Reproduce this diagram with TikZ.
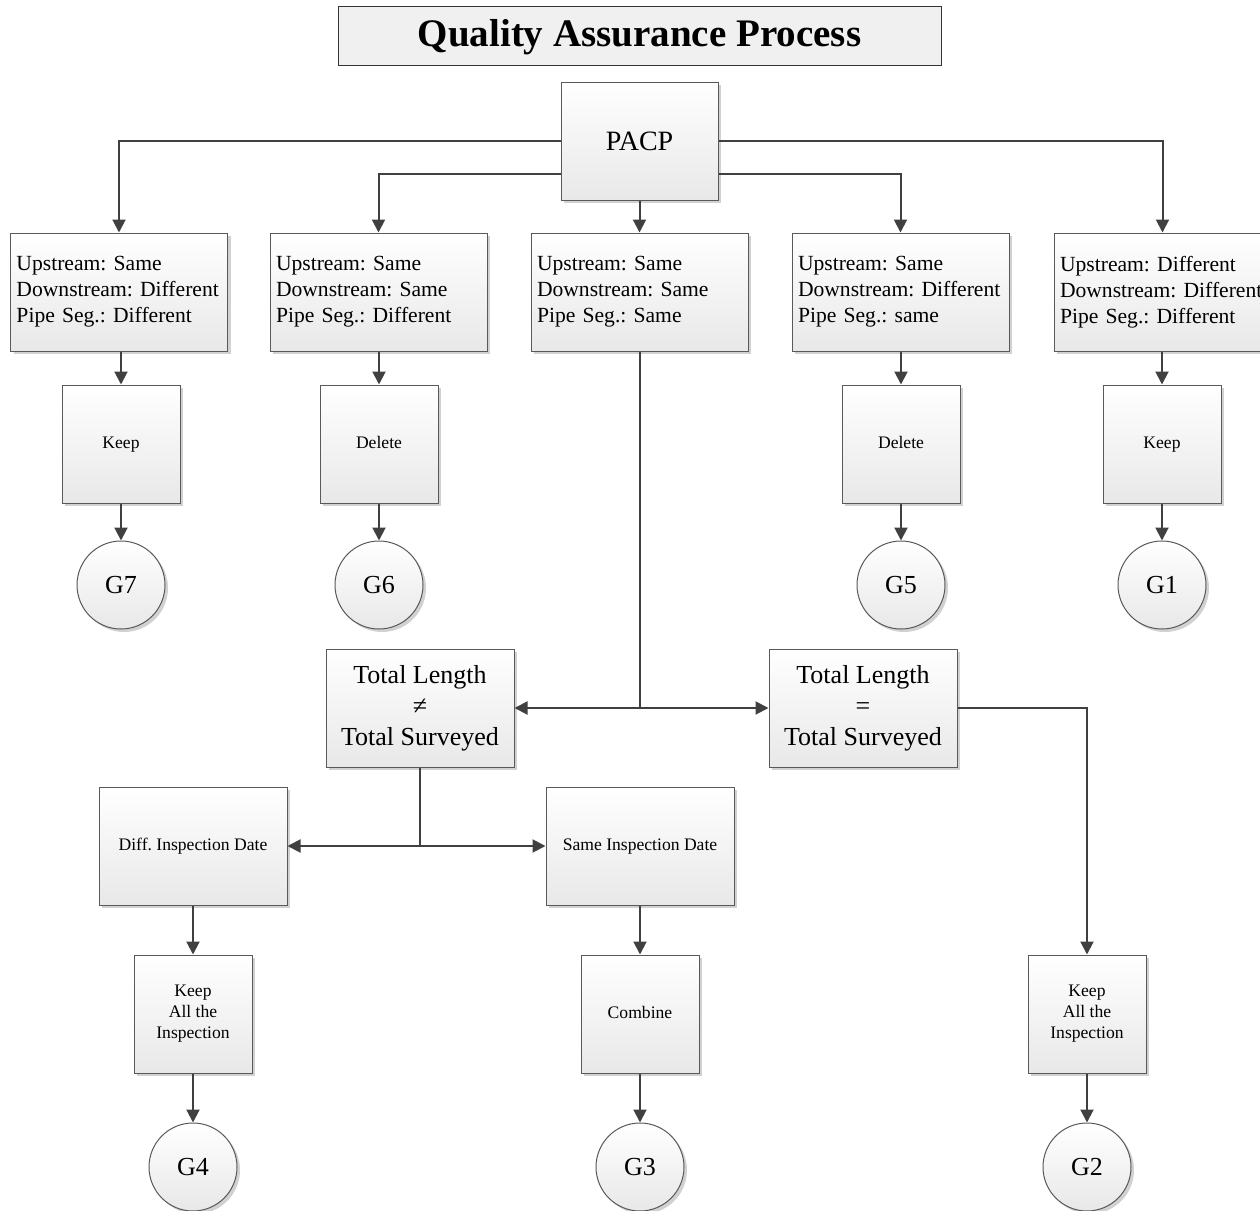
\documentclass[tikz,border=0pt]{standalone}
\usepackage{fontspec}
\setmainfont{Liberation Serif}
\usetikzlibrary{arrows.meta,shadows}
\frenchspacing
\hyphenpenalty=10000
\exhyphenpenalty=10000

\begin{document}
\begin{tikzpicture}[x=0.5pt,y=-0.5pt,
  shade box/.style={draw=black!65, line width=0.5pt, top color=white, bottom color=black!9,
    drop shadow={shadow xshift=1.5pt,shadow yshift=-1.5pt,opacity=0.18,fill=black}, inner sep=0pt},
  cond/.style={shade box, minimum width=108.5pt, minimum height=59pt, text width=102.5pt,
    align=left, font=\fontsize{10.8}{13}\selectfont},
  act/.style={shade box, minimum width=59pt, minimum height=59pt, align=center,
    font=\fontsize{8.8}{10.5}\selectfont},
  act1/.style={act, text height=6.5pt, text depth=2pt},
  test/.style={shade box, minimum width=94pt, minimum height=59pt, align=center,
    font=\fontsize{13}{15.5}\selectfont},
  datebox/.style={shade box, minimum width=94pt, minimum height=59pt, align=center,
    text height=6.5pt, text depth=2pt, font=\fontsize{8.8}{10.5}\selectfont},
  grp/.style={shade box, circle, minimum size=44pt, font=\fontsize{13}{15}\selectfont},
  link/.style={draw=black!75, line width=1pt},
  arr/.style={link, -{Triangle[length=6.5pt,width=6.5pt]}},
]
\useasboundingbox (0,0) rectangle (1260,1211);

% title
\node[draw=black!80, line width=0.5pt, fill=black!6, minimum width=301.5pt, minimum height=29.5pt,
  inner sep=0pt, text height=14pt, text depth=2.8pt, font=\fontsize{19.5}{24}\selectfont\bfseries]
  (title) at (639.5,35.5) {Quality Assurance Process};

% root
\node[shade box, minimum width=78.5pt, minimum height=59pt, font=\fontsize{14}{16}\selectfont]
  (pacp) at (639.5,141) {PACP};
\coordinate (inner) at (0,174);

% first level: comparison of the records
\node[cond] (c7) at (119,292) {Upstream:~Same\\Downstream:~Different\\Pipe Seg.:~Different};
\node[cond] (c6) at (378.5,292) {Upstream:~Same\\Downstream:~Same\\Pipe Seg.:~Different};
\node[cond] (c3) at (639.5,292) {Upstream:~Same\\Downstream:~Same\\Pipe Seg.:~Same};
\node[cond] (c5) at (900.5,292) {Upstream:~Same\\Downstream:~Different\\Pipe Seg.:~same};
\node[cond] (c1) at (1162.5,292) {Upstream:~Different\\Downstream:~Different\\Pipe Seg.:~Different};

% actions
\node[act1] (a7) at (121,444) {Keep};
\node[act1] (a6) at (379,444) {Delete};
\node[act1] (a5) at (901,444) {Delete};
\node[act1] (a1) at (1162,444) {Keep};

% groups
\node[grp] (g7) at (121,585) {G7};
\node[grp] (g6) at (379,585) {G6};
\node[grp] (g5) at (901,585) {G5};
\node[grp] (g1) at (1162,585) {G1};

% length tests
\node[test] (tne) at (420,708) {Total Length\\≠\\Total Surveyed};
\node[test] (teq) at (863,708) {Total Length\\=\\Total Surveyed};

% inspection dates
\node[datebox] (dd) at (193,846) {Diff. Inspection Date};
\node[datebox] (sd) at (640,846) {Same Inspection Date};

% final actions
\node[act] (k4) at (193,1014) {Keep\\All the\\Inspection};
\node[act1] (cb) at (640,1014) {Combine};
\node[act] (k2) at (1087,1014) {Keep\\All the\\Inspection};

\node[grp] (g4) at (193,1167) {G4};
\node[grp] (g3) at (640,1167) {G3};
\node[grp] (g2) at (1087,1167) {G2};

% connectors from the root
\draw[arr] (pacp.west) -| (c7.north);
\draw[arr] (pacp.east) -| (c1.north);
\draw[arr] (pacp.west |- inner) -| (c6.north);
\draw[arr] (pacp.east |- inner) -| (c5.north);
\draw[arr] (pacp.south) -- (c3.north);

\draw[arr] (c7.south -| a7) -- (a7);
\draw[arr] (c6.south -| a6) -- (a6);
\draw[arr] (c5.south -| a5) -- (a5);
\draw[arr] (c1.south -| a1) -- (a1);
\draw[arr] (a7) -- (g7);
\draw[arr] (a6) -- (g6);
\draw[arr] (a5) -- (g5);
\draw[arr] (a1) -- (g1);

% branch of identical records
\draw[link] (c3.south) -- (c3.south |- tne.east) coordinate (split1);
\draw[arr] (split1) -- (tne.east);
\draw[arr] (split1) -- (teq.west);

\draw[link] (tne.south) -- (tne.south |- dd.east) coordinate (split2);
\draw[arr] (split2) -- (dd.east);
\draw[arr] (split2) -- (sd.west);

\draw[arr] (teq.east) -| (k2.north);

\draw[arr] (dd) -- (k4);
\draw[arr] (sd) -- (cb);
\draw[arr] (k4) -- (g4);
\draw[arr] (cb) -- (g3);
\draw[arr] (k2) -- (g2);
\end{tikzpicture}
\end{document}
